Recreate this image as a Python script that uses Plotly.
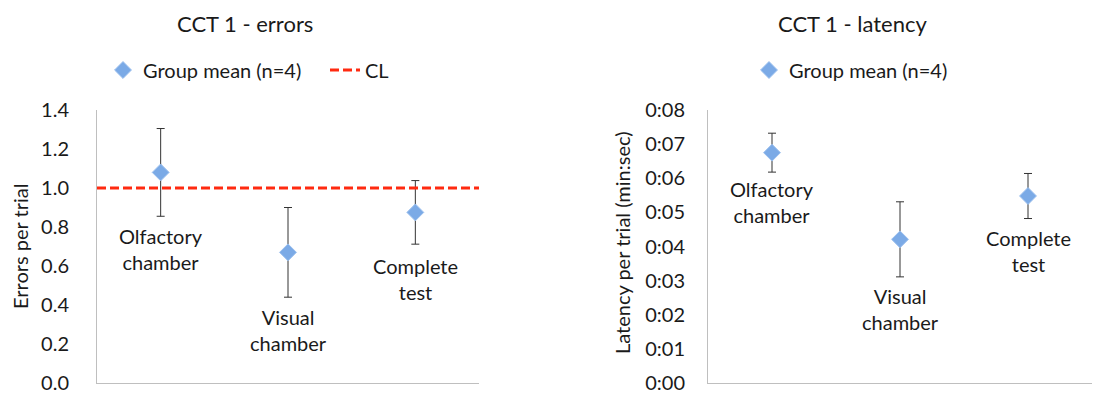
import plotly.graph_objects as go

W, H = 1109, 397

categories = ["Olfactory<br>chamber", "Visual<br>chamber", "Complete<br>test"]
cat_pos = [0.5, 1.5, 2.5]

# Errors per trial
err_mean = [1.08, 0.67, 0.875]
err_sd = [0.225, 0.23, 0.163]
chance_level = 1.0

# Latency per trial (seconds)
lat_mean = [6.75, 4.21, 5.48]
lat_sd = [0.57, 1.1, 0.66]

err_ticks = [0.0, 0.2, 0.4, 0.6, 0.8, 1.0, 1.2, 1.4]
err_ticktext = ["0.0", "0.2", "0.4", "0.6", "0.8", "1.0", "1.2", "1.4"]
lat_ticks = [0, 1, 2, 3, 4, 5, 6, 7, 8]
lat_ticktext = ["0:00", "0:01", "0:02", "0:03", "0:04", "0:05", "0:06", "0:07", "0:08"]

# label pixel offsets below the marker (style)
err_label_shift = [-50, -51, -40]
lat_label_shift = [-22, -43, -28]

FONT = "Lato"
TXT = "#1a1a1a"
FS = 20

fig = go.Figure()

marker = dict(symbol="diamond", size=13, color="#7BAAE6",
              line=dict(color="#9CC0EE", width=1))
ebar = dict(color="#333333", thickness=1, width=4)

fig.add_trace(go.Scatter(
    x=cat_pos, y=err_mean, mode="markers", name="Group mean (n=4)",
    marker=marker, error_y=dict(type="data", array=err_sd, **ebar),
    xaxis="x", yaxis="y", legend="legend", cliponaxis=False))
fig.add_trace(go.Scatter(
    x=[0, 3], y=[chance_level, chance_level], mode="lines", name="CL",
    line=dict(color="#FF2A10", width=3, dash="9px,4px"),
    xaxis="x", yaxis="y", legend="legend3"))
fig.add_trace(go.Scatter(
    x=cat_pos, y=lat_mean, mode="markers", name="Group mean (n=4)",
    marker=marker, error_y=dict(type="data", array=lat_sd, **ebar),
    xaxis="x2", yaxis="y2", legend="legend2", cliponaxis=False))

ydom = [1 - 383 / H, 1 - 110 / H]
axis_common = dict(showgrid=False, zeroline=False, showline=True,
                   linecolor="#BFBFBF", linewidth=1, ticks="", automargin=False,
                   tickfont=dict(family=FONT, size=FS, color=TXT))

leg_common = dict(orientation="h", y=1 - 70 / H, xanchor="left",
                  yanchor="middle", font=dict(family=FONT, size=FS, color=TXT),
                  bgcolor="rgba(0,0,0,0)")

fig.update_layout(
    width=W, height=H,
    margin=dict(l=0, r=0, t=0, b=0, autoexpand=False),
    paper_bgcolor="white", plot_bgcolor="white",
    font=dict(family=FONT, size=FS, color=TXT),
    xaxis=dict(domain=[97 / W, 479 / W], range=[0, 3], showticklabels=False,
               anchor="y", **axis_common),
    yaxis=dict(domain=ydom, range=[0, 1.4], tickvals=err_ticks, anchor="x",
               ticktext=err_ticktext, ticklabelstandoff=23, **axis_common),
    xaxis2=dict(domain=[708 / W, 1092 / W], range=[0, 3], showticklabels=False,
                anchor="y2", **axis_common),
    yaxis2=dict(domain=ydom, range=[0, 8], tickvals=lat_ticks, anchor="x2",
                ticktext=lat_ticktext, ticklabelstandoff=18, **axis_common),
    legend=dict(x=103 / W, **leg_common),
    legend3=dict(x=325 / W, **leg_common),
    legend2=dict(x=749 / W, **leg_common),
    showlegend=True,
)

ann = []
ann.append(dict(text="CCT 1 - errors", x=245 / W, y=1 - 23 / H, xref="paper",
                yref="paper", xanchor="center", yanchor="middle",
                showarrow=False, font=dict(size=22)))
ann.append(dict(text="CCT 1 - latency", x=852 / W, y=1 - 23 / H, xref="paper",
                yref="paper", xanchor="center", yanchor="middle",
                showarrow=False, font=dict(size=22)))
ann.append(dict(text="Errors per trial", x=20 / W, y=1 - 247 / H, xref="paper",
                yref="paper", xanchor="center", yanchor="middle",
                showarrow=False, textangle=-90))
ann.append(dict(text="Latency per trial (min:sec)", x=622 / W, y=1 - 243 / H,
                xref="paper", yref="paper", xanchor="center", yanchor="middle",
                showarrow=False, textangle=-90))
for i, c in enumerate(categories):
    ann.append(dict(text=c, x=cat_pos[i], y=err_mean[i], xref="x", yref="y",
                    yanchor="top", yshift=err_label_shift[i], showarrow=False))
    ann.append(dict(text=c, x=cat_pos[i], y=lat_mean[i], xref="x2", yref="y2",
                    yanchor="top", yshift=lat_label_shift[i], showarrow=False))
fig.update_layout(annotations=ann)

fig.write_html("out.html")
